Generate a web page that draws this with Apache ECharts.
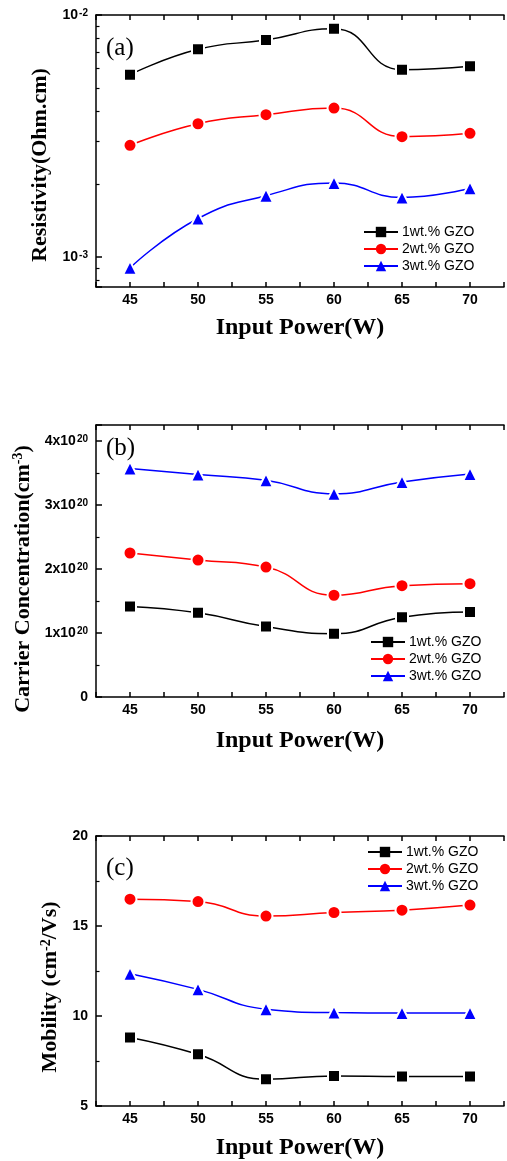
<!DOCTYPE html>
<html>
<head>
<meta charset="utf-8">
<script src="https://cdn.jsdelivr.net/npm/echarts@6/dist/echarts.min.js"></script>
<style>
  html, body { margin: 0; padding: 0; background: #fff; }
  #chart { width: 507px; height: 1161px; }
</style>
</head>
<body>
<div id="chart"></div>
<script>
// input power (W)
const power = [45, 50, 55, 60, 65, 70]
const seriesNames = ['1wt.% GZO', '2wt.% GZO', '3wt.% GZO']

// (a) resistivity, Ohm.cm
const resistivity1 = [5.66e-3, 7.21e-3, 7.88e-3, 8.78e-3, 5.94e-3, 6.14e-3]
const resistivity2 = [2.89e-3, 3.55e-3, 3.87e-3, 4.12e-3, 3.14e-3, 3.24e-3]
const resistivity3 = [0.90e-3, 1.44e-3, 1.79e-3, 2.02e-3, 1.76e-3, 1.92e-3]

// (b) carrier concentration, cm^-3
const carrier1 = [1.415e20, 1.315e20, 1.10e20, 0.99e20, 1.247e20, 1.33e20]
const carrier2 = [2.25e20, 2.14e20, 2.03e20, 1.59e20, 1.74e20, 1.77e20]
const carrier3 = [3.57e20, 3.475e20, 3.385e20, 3.175e20, 3.36e20, 3.485e20]

// (c) mobility
const mobility1 = [8.81, 7.87, 6.49, 6.67, 6.64, 6.64]
const mobility2 = [16.49, 16.36, 15.55, 15.75, 15.88, 16.16]
const mobility3 = [12.35, 11.48, 10.38, 10.19, 10.17, 10.17]

const colors = ['#000000', '#ff0000', '#0000ff']
const symbols = ['rect', 'circle', 'triangle']
const symbolSizes = [12, 13, 14]

const sansFont = '"Liberation Sans", Arial, sans-serif'
const serifFont = '"Liberation Serif", "Times New Roman", serif'

// panel placement
const gridTops = [15, 425, 836]
const gridHeight = 272

const chart = echarts.init(document.getElementById('chart'))

const grids = gridTops.map(top => ({ left: 96, top: top, width: 413, height: gridHeight }))

const supRich = {
  sup: { fontSize: 10, fontWeight: 'bold', fontFamily: sansFont, color: '#000', verticalAlign: 'top', padding: [0, 0, 0, 1] }
}

function xAxes(gridIndex) {
  const base = {
    gridIndex: gridIndex,
    type: 'value',
    min: 42.5,
    max: 72.5,
    interval: 2.5,
    splitLine: { show: false },
    axisLine: { show: true, onZero: false, lineStyle: { color: '#000', width: 1.5 } },
    axisTick: { show: true, inside: true, length: 5, lineStyle: { color: '#000', width: 1.5 } }
  }
  return [
    {
      ...base,
      position: 'bottom',
      name: 'Input Power(W)',
      nameLocation: 'middle',
      nameGap: [29, 32, 30][gridIndex],
      nameTextStyle: { fontFamily: serifFont, fontWeight: 'bold', fontSize: 24, color: '#000' },
      axisLabel: {
        color: '#000', fontFamily: sansFont, fontWeight: 'bold', fontSize: 14, margin: 6,
        formatter: v => (v % 5 === 0 ? String(v) : '')
      }
    },
    { ...base, position: 'top', axisLabel: { show: false } }
  ]
}

function yBase(gridIndex, shift) {
  return {
    gridIndex: gridIndex,
    position: 'left',
    splitLine: { show: false },
    axisLine: { show: true, onZero: false, lineStyle: { color: '#000', width: 1.5 } },
    axisTick: { show: true, inside: true, length: 6, lineStyle: { color: '#000', width: 1.5 } },
    minorTick: { show: true, splitNumber: 2, length: 3.5, lineStyle: { color: '#000', width: 1.2 } },
    axisLabel: { color: '#000', fontFamily: sansFont, fontWeight: 'bold', fontSize: 14, margin: 8, rich: supRich },
    nameLocation: 'middle',
    nameTextStyle: {
      fontFamily: serifFont, fontWeight: 'bold', fontSize: 22, color: '#000',
      padding: [0, shift, 0, 0],
      rich: { sup: { fontFamily: serifFont, fontWeight: 'bold', fontSize: 14, color: '#000', verticalAlign: 'top' } }
    }
  }
}

const yAxes = [
  {
    ...yBase(0, 28),
    type: 'log',
    logBase: 10,
    min: 0.00075,
    max: 0.01,
    name: 'Resistivity(Ohm.cm)',
    nameGap: 38,
    // 2..9 x decade
    minorTick: { show: true, splitNumber: 9, length: 3.5, lineStyle: { color: '#000', width: 1.2 } },
    axisLabel: {
      ...yBase(0, 0).axisLabel,
      showMinLabel: false,
      formatter: v => '10{sup|' + Math.round(Math.log10(v)) + '}'
    }
  },
  {
    ...yBase(1, 36),
    type: 'value',
    min: 0,
    max: 4.25e20,
    interval: 1e20,
    name: 'Carrier Concentration(cm{sup|-3})',
    nameGap: 59,
    axisLabel: {
      ...yBase(1, 0).axisLabel,
      showMaxLabel: false,
      formatter: v => (v === 0 ? '0' : Math.round(v / 1e20) + 'x10{sup|20}')
    }
  },
  {
    ...yBase(2, 32),
    type: 'value',
    min: 5,
    max: 20,
    interval: 5,
    name: 'Mobility (cm{sup|-2}/Vs)',
    nameGap: 32
  }
]

const panelData = [
  [resistivity1, resistivity2, resistivity3],
  [carrier1, carrier2, carrier3],
  [mobility1, mobility2, mobility3]
]

const series = []
panelData.forEach((sets, g) => {
  sets.forEach((values, k) => {
    series.push({
      name: seriesNames[k],
      type: 'line',
      xAxisIndex: g * 2,
      yAxisIndex: g,
      smooth: 0.5,
      symbol: symbols[k],
      symbolSize: symbolSizes[k],
      showSymbol: true,
      color: colors[k],
      lineStyle: { color: colors[k], width: 1.5 },
      itemStyle: { color: colors[k], borderColor: '#fff', borderWidth: 2 },
      emphasis: { disabled: true },
      data: power.map((p, i) => [p, values[i]])
    })
  })
})

const legendPos = [
  { left: 363, top: 225 },
  { left: 370, top: 635 },
  { left: 367, top: 845 }
]

const legends = legendPos.map(pos => ({
  ...pos,
  orient: 'vertical',
  data: seriesNames,
  itemWidth: 34,
  itemHeight: 13,
  itemGap: 3,
  padding: 0,
  selectedMode: false,
  itemStyle: { borderWidth: 0 },
  textStyle: { fontFamily: sansFont, fontSize: 14, color: '#000', lineHeight: 13, padding: [0, 0, 0, -1] }
}))

const panelLabels = ['(a)', '(b)', '(c)']
const labelTops = [36, 436, 856]
const titles = panelLabels.map((t, i) => ({
  text: t,
  left: 106,
  top: labelTops[i],
  padding: 0,
  textStyle: { fontFamily: serifFont, fontWeight: 'normal', fontSize: 25, color: '#000' }
}))

chart.setOption({
  animation: false,
  backgroundColor: '#fff',
  title: titles,
  legend: legends,
  grid: grids,
  xAxis: [...xAxes(0), ...xAxes(1), ...xAxes(2)],
  yAxis: yAxes,
  series: series
})
</script>
</body>
</html>
